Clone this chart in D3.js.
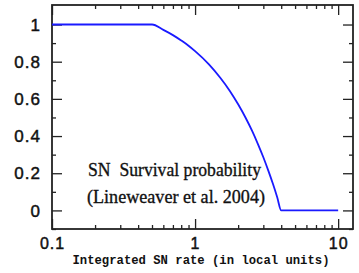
<!DOCTYPE html>
<html>
<head>
<meta charset="utf-8">
<script src="https://cdn.jsdelivr.net/npm/d3@7"></script>
<style>
  html, body { margin: 0; padding: 0; background: #fff; }
  svg { display: block; }
</style>
</head>
<body>
<svg id="chart" width="359" height="273"></svg>
<script>
// ---- data ----
const rateValues = [0.1, 0.5, 0.6, 0.7, 0.8, 0.9, 1.0, 1.25, 1.5, 1.75, 2.0, 2.25, 2.5, 2.75, 3.0, 3.25, 3.5, 3.75, 4.0, 10];
const survivalValues = [1, 1, 0.971, 0.943, 0.914, 0.886, 0.857, 0.786, 0.714, 0.643, 0.571, 0.5, 0.429, 0.357, 0.286, 0.214, 0.143, 0.071, 0, 0];
const xTickLabels = ["0.1", "1", "10"];
const xTickValues = [0.1, 1, 10];
const yTickValues = [0, 0.2, 0.4, 0.6, 0.8, 1];
const yTickLabels = ["0", "0.2", "0.4", "0.6", "0.8", "1"];
const xMinorTicks = [0.2, 0.3, 0.4, 0.5, 0.6, 0.7, 0.8, 0.9, 2, 3, 4, 5, 6, 7, 8, 9];
const yMinorTicks = [-0.1, 0.1, 0.3, 0.5, 0.7, 0.9];
const xTitle = "Integrated SN rate (in local units)";
const noteLines = ["SN  Survival probability", "(Lineweaver et al. 2004)"];

// ---- layout ----
const L = 52, T = 5, R = 353, B = 229;
const svg = d3.select("#chart");
const x = d3.scaleLog().domain([0.1, 12.7]).range([L, R]);
const y = d3.scaleLinear().domain([-0.1, 1.105]).range([B, T]);

const majorLen = 10, minorLen = 4;
const tickColor = "#222";

function ticks(g, axis, vals, len) {
  g.call(axis.tickValues(vals).tickSize(len).tickFormat(""));
}
ticks(svg.append("g").attr("transform", `translate(0,${B})`), d3.axisTop(x), xTickValues, majorLen);
ticks(svg.append("g").attr("transform", `translate(0,${B})`), d3.axisTop(x), xMinorTicks, minorLen);
ticks(svg.append("g").attr("transform", `translate(0,${T})`), d3.axisBottom(x), xTickValues, majorLen);
ticks(svg.append("g").attr("transform", `translate(0,${T})`), d3.axisBottom(x), xMinorTicks, minorLen);
ticks(svg.append("g").attr("transform", `translate(${L},0)`), d3.axisRight(y), yTickValues, majorLen);
ticks(svg.append("g").attr("transform", `translate(${L},0)`), d3.axisRight(y), yMinorTicks, minorLen);
ticks(svg.append("g").attr("transform", `translate(${R},0)`), d3.axisLeft(y), yTickValues, majorLen);
ticks(svg.append("g").attr("transform", `translate(${R},0)`), d3.axisLeft(y), yMinorTicks, minorLen);

svg.selectAll(".domain").remove();
svg.selectAll(".tick line").attr("stroke", tickColor).attr("stroke-width", 1.3);

// frame
svg.append("rect").attr("x", L).attr("y", T).attr("width", R - L).attr("height", B - T)
  .attr("fill", "none").attr("stroke", "#222").attr("stroke-width", 1.8);

// tick labels
const labelFont = "'Liberation Sans', Arial, sans-serif";
svg.append("g").selectAll("text").data(yTickValues).join("text")
  .attr("x", L - 11).attr("y", d => y(d)).attr("dy", "0.36em")
  .attr("text-anchor", "end")
  .attr("font-family", labelFont).attr("font-size", 17)
  .attr("letter-spacing", 1.0).attr("fill", "#111")
  .attr("stroke", "#111").attr("stroke-width", 0.45)
  .text((d, i) => yTickLabels[i]);

svg.append("g").selectAll("text").data(xTickValues).join("text")
  .attr("x", d => x(d) + 0.5).attr("y", 249)
  .attr("text-anchor", "middle")
  .attr("font-family", labelFont).attr("font-size", 16)
  .attr("letter-spacing", 1.0).attr("fill", "#111")
  .attr("stroke", "#111").attr("stroke-width", 0.45)
  .text((d, i) => xTickLabels[i]);

// axis title
svg.append("text").attr("x", 201).attr("y", 263.5)
  .attr("text-anchor", "middle")
  .attr("font-family", "'Liberation Mono', 'DejaVu Sans Mono', monospace")
  .attr("font-size", 12).attr("font-weight", "bold").attr("fill", "#111")
  .attr("textLength", 257).attr("lengthAdjust", "spacingAndGlyphs")
  .text(xTitle);

// curve
const pts = rateValues.map((r, i) => [r, survivalValues[i]]);
svg.append("path").datum(pts)
  .attr("fill", "none").attr("stroke", "#1a1aff").attr("stroke-width", 1.8)
  .attr("d", d3.line().x(d => x(d[0])).y(d => y(d[1])).curve(d3.curveMonotoneX));

// annotation
const noteX = [88, 87], noteY = [175.5, 203], noteW = [173, 178];
svg.append("g").selectAll("text").data(noteLines).join("text")
  .attr("x", (d, i) => noteX[i]).attr("y", (d, i) => noteY[i])
  .attr("font-family", "'Liberation Serif', 'Times New Roman', serif")
  .attr("font-size", 19.5).attr("fill", "#111")
  .attr("stroke", "#111").attr("stroke-width", 0.35)
  .attr("textLength", (d, i) => noteW[i]).attr("lengthAdjust", "spacingAndGlyphs")
  .style("white-space", "pre")
  .text(d => d);
</script>
</body>
</html>
